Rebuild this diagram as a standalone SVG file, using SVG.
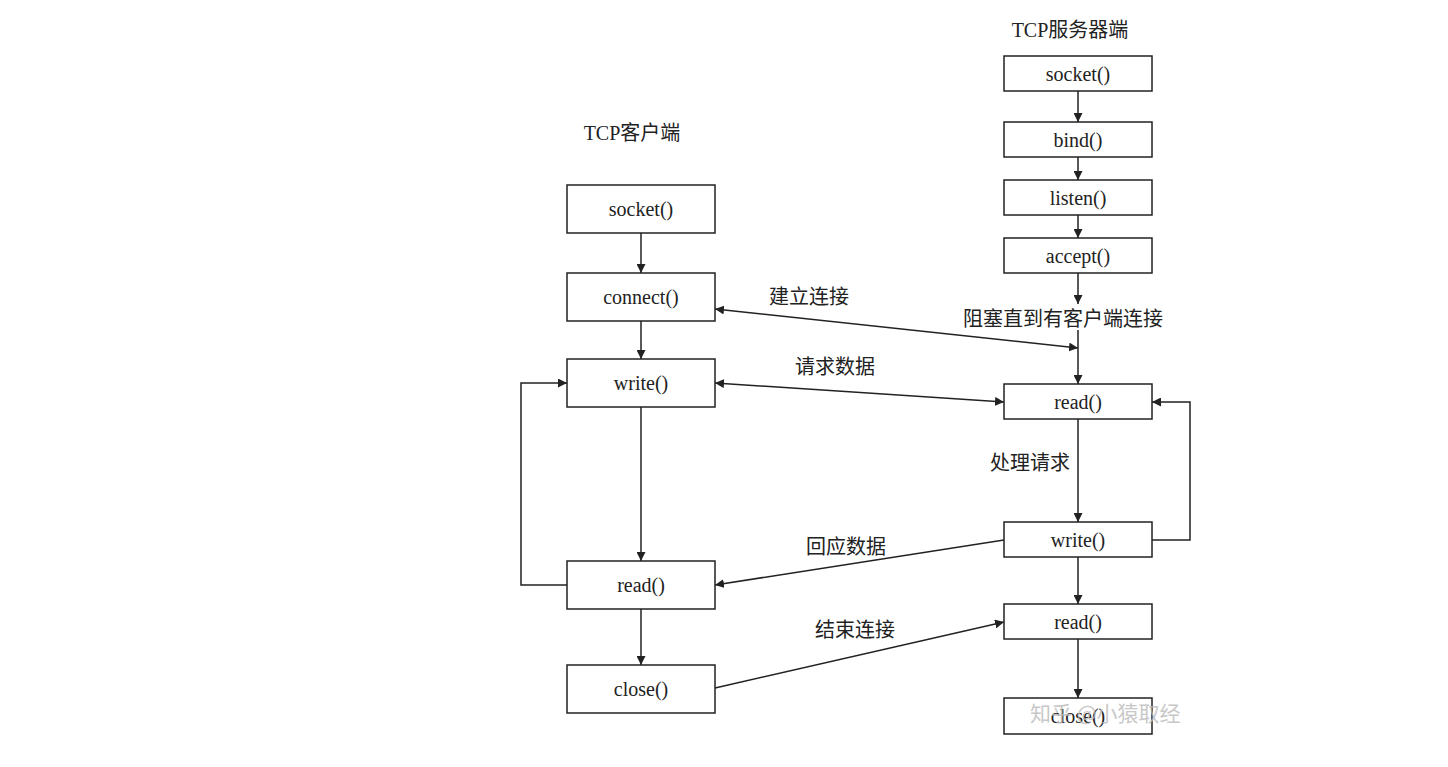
<svg xmlns="http://www.w3.org/2000/svg" width="1448" height="767" viewBox="0 0 1448 767">
<style>
.box{fill:#fff;stroke:#222;stroke-width:1.5}
.lbl{font-family:"Liberation Serif","Noto Sans CJK SC",serif;font-size:20px;fill:#222;text-anchor:middle;dominant-baseline:central}
.cn{font-family:"Noto Sans CJK SC","Liberation Sans",sans-serif;font-size:20px;fill:#222;dominant-baseline:central}
.title{font-family:"Liberation Serif","Noto Sans CJK SC",serif;font-size:20px;fill:#222;text-anchor:middle;dominant-baseline:central}
.ln{fill:none;stroke:#222;stroke-width:1.5}
.wm{font-family:"Noto Sans CJK SC",sans-serif;font-size:21px;fill:#bbb;opacity:0.8;dominant-baseline:central}
</style>
<defs>
<marker id="ah" viewBox="0 0 10 10" refX="10" refY="5" markerWidth="9" markerHeight="9" markerUnits="userSpaceOnUse" orient="auto-start-reverse">
<path d="M0,0 L10,5 L0,10 z" fill="#222"/>
</marker>
</defs>
<rect width="1448" height="767" fill="#fff"/>
<text class="title" x="632" y="133">TCP客户端</text>
<text class="title" x="1070" y="30">TCP服务器端</text>
<g id="connectors">
<line class="ln" x1="641" y1="233" x2="641" y2="273" marker-end="url(#ah)"/>
<line class="ln" x1="641" y1="321" x2="641" y2="359" marker-end="url(#ah)"/>
<line class="ln" x1="641" y1="407" x2="641" y2="561" marker-end="url(#ah)"/>
<line class="ln" x1="641" y1="609" x2="641" y2="665" marker-end="url(#ah)"/>
<polyline class="ln" points="567,585 521,585 521,383 567,383" marker-end="url(#ah)"/>
<line class="ln" x1="1078" y1="91" x2="1078" y2="122" marker-end="url(#ah)"/>
<line class="ln" x1="1078" y1="157" x2="1078" y2="180" marker-end="url(#ah)"/>
<line class="ln" x1="1078" y1="215" x2="1078" y2="238" marker-end="url(#ah)"/>
<line class="ln" x1="1078" y1="273" x2="1078" y2="304" marker-end="url(#ah)"/>
<line class="ln" x1="1078" y1="330" x2="1078" y2="384" marker-end="url(#ah)"/>
<line class="ln" x1="715" y1="309" x2="1078" y2="348" marker-start="url(#ah)" marker-end="url(#ah)"/>
<line class="ln" x1="715" y1="383" x2="1004" y2="402" marker-start="url(#ah)" marker-end="url(#ah)"/>
<line class="ln" x1="1078" y1="419" x2="1078" y2="522" marker-end="url(#ah)"/>
<polyline class="ln" points="1152,540 1190,540 1190,402 1152,402" marker-end="url(#ah)"/>
<line class="ln" x1="1004" y1="540" x2="715" y2="585" marker-end="url(#ah)"/>
<line class="ln" x1="1078" y1="557" x2="1078" y2="604" marker-end="url(#ah)"/>
<line class="ln" x1="715" y1="688" x2="1004" y2="622" marker-end="url(#ah)"/>
<line class="ln" x1="1078" y1="639" x2="1078" y2="698" marker-end="url(#ah)"/>
<text class="cn" x="769" y="295">建立连接</text>
<text class="cn" x="795" y="365">请求数据</text>
<text class="cn" x="963" y="317">阻塞直到有客户端连接</text>
<text class="cn" x="990" y="461">处理请求</text>
<text class="cn" x="806" y="545">回应数据</text>
<text class="cn" x="815" y="628">结束连接</text>
</g>
<g id="c_socket"><rect class="box" x="567" y="185" width="148" height="48"/><text class="lbl" x="641" y="209">socket()</text></g>
<g id="c_connect"><rect class="box" x="567" y="273" width="148" height="48"/><text class="lbl" x="641" y="297">connect()</text></g>
<g id="c_write"><rect class="box" x="567" y="359" width="148" height="48"/><text class="lbl" x="641" y="383">write()</text></g>
<g id="c_read"><rect class="box" x="567" y="561" width="148" height="48"/><text class="lbl" x="641" y="585">read()</text></g>
<g id="c_close"><rect class="box" x="567" y="665" width="148" height="48"/><text class="lbl" x="641" y="689">close()</text></g>
<g id="s_socket"><rect class="box" x="1004" y="56" width="148" height="35"/><text class="lbl" x="1078" y="73.5">socket()</text></g>
<g id="s_bind"><rect class="box" x="1004" y="122" width="148" height="35"/><text class="lbl" x="1078" y="139.5">bind()</text></g>
<g id="s_listen"><rect class="box" x="1004" y="180" width="148" height="35"/><text class="lbl" x="1078" y="197.5">listen()</text></g>
<g id="s_accept"><rect class="box" x="1004" y="238" width="148" height="35"/><text class="lbl" x="1078" y="255.5">accept()</text></g>
<g id="s_read"><rect class="box" x="1004" y="384" width="148" height="35"/><text class="lbl" x="1078" y="401.5">read()</text></g>
<g id="s_write"><rect class="box" x="1004" y="522" width="148" height="35"/><text class="lbl" x="1078" y="539.5">write()</text></g>
<g id="s_read2"><rect class="box" x="1004" y="604" width="148" height="35"/><text class="lbl" x="1078" y="621.5">read()</text></g>
<g id="s_close"><rect class="box" x="1004" y="698" width="148" height="36"/><text class="lbl" x="1078" y="716">close()</text></g>
<text class="wm" x="1030" y="712">知乎 @小猿取经</text>
</svg>
